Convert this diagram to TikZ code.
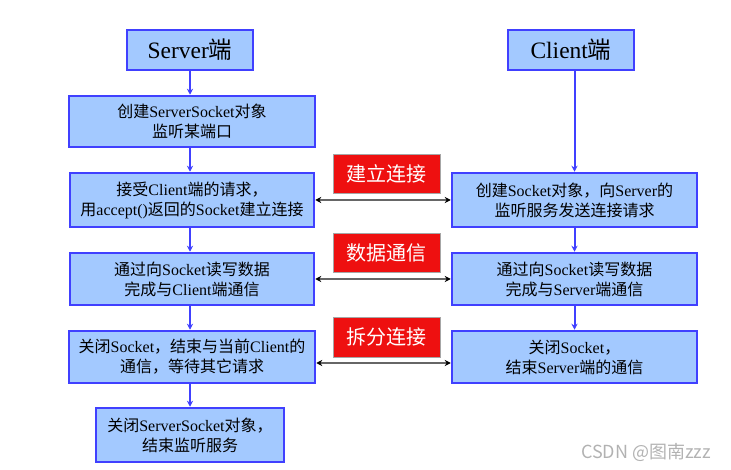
\documentclass[tikz,border=0pt]{standalone}
\usepackage{fontspec}
\setmainfont{Liberation Serif}
\newfontfamily\zhfont{Noto Sans CJK SC}
\newcommand\zh[1]{{\zhfont #1}}
\usetikzlibrary{arrows.meta,calc}
\definecolor{boxfill}{HTML}{A3C9FF}
\definecolor{boxline}{HTML}{4040FF}
\definecolor{redfill}{HTML}{EE1010}
\begin{document}
\begin{tikzpicture}[x=1pt,y=-1pt,
  blk/.style={draw=boxline,fill=boxfill,line width=2.5pt,inner sep=0pt,align=center,
    font=\fontsize{16}{20}\selectfont},
  head/.style={blk,font=\fontsize{23.5}{26}\selectfont},
  lbl/.style={draw=gray!70,fill=redfill,line width=0.8pt,text=white,inner sep=0pt,
    font=\fontsize{20}{24}\selectfont\zhfont},
  vflow/.style={draw=boxline,line width=2pt,-{Stealth[length=6pt,width=6pt]}},
  hlink/.style={draw=gray!80!black,line width=1.2pt,{Stealth[length=6pt,width=6pt,black]}-{Stealth[length=6pt,width=6pt,black]}},
  wmark/.style={text=gray!60,font=\fontsize{18}{20}\selectfont\zhfont}]
\useasboundingbox (0,0) rectangle (731,470);

% Server column
\node[head,minimum width=126pt,minimum height=40pt] (S0) at (190,50) {Server\zh{端}};
\node[blk,minimum width=246pt,minimum height=51pt] (S1) at (192,121.5) {\zh{创建}ServerSocket\zh{对象}\\\zh{监听某端口}};
\node[blk,minimum width=244pt,minimum height=54pt] (S2) at (192,200) {\zh{接受}Client\zh{端的请求，}\\\zh{用}accept()\zh{返回的}Socket\zh{建立连接}};
\node[blk,minimum width=244pt,minimum height=52pt] (S3) at (192,279) {\zh{通过向}Socket\zh{读写数据}\\\zh{完成与}Client\zh{端通信}};
\node[blk,minimum width=246pt,minimum height=52pt] (S4) at (192,357) {\zh{关闭}Socket\zh{，结束与当前}Client\zh{的}\\\zh{通信，等待其它请求}};
\node[blk,minimum width=188pt,minimum height=54pt] (S5) at (190,435) {\zh{关闭}ServerSocket\zh{对象，}\\\zh{结束监听服务}};

% Client column
\node[head,minimum width=126pt,minimum height=40pt] (C0) at (571,50) {Client\zh{端}};
\node[blk,minimum width=245pt,minimum height=54pt] (C1) at (574.5,200) {\zh{创建}Socket\zh{对象，向}Server\zh{的}\\\zh{监听服务发送连接请求}};
\node[blk,minimum width=245pt,minimum height=52pt] (C2) at (574.5,279) {\zh{通过向}Socket\zh{读写数据}\\\zh{完成与}Server\zh{端通信}};
\node[blk,minimum width=245pt,minimum height=52pt] (C3) at (574.5,357) {\zh{关闭}Socket\zh{，}\\\zh{结束}Server\zh{端的通信}};

% Red labels
\node[lbl,minimum width=107pt,minimum height=39pt] (L1) at (386.5,173.5) {建立连接};
\node[lbl,minimum width=107pt,minimum height=39pt] (L2) at (386.5,252.5) {数据通信};
\node[lbl,minimum width=107pt,minimum height=40pt] (L3) at (386.5,337) {拆分连接};

% Vertical flows
\draw[vflow] (S0.south) -- (S1.north -| S0.south);
\draw[vflow] (S1.south -| S0.south) -- (S2.north -| S0.south);
\draw[vflow] (S2.south -| S0.south) -- (S3.north -| S0.south);
\draw[vflow] (S3.south -| S0.south) -- (S4.north -| S0.south);
\draw[vflow] (S4.south -| S0.south) -- (S5.north);
\draw[vflow] (C0.south -| C1.north) -- (C1.north);
\draw[vflow] (C1.south) -- (C2.north);
\draw[vflow] (C2.south) -- (C3.north);

% Horizontal links
\draw[hlink] (S2.east) -- (C1.west);
\draw[hlink] (S3.east) -- (C2.west);
\draw[hlink] ($(S4.east)+(0,6)$) -- ($(C3.west)+(0,6)$);

% Watermark
\node[wmark] (W) at (646,452) {CSDN @图南zzz};
\end{tikzpicture}
\end{document}
